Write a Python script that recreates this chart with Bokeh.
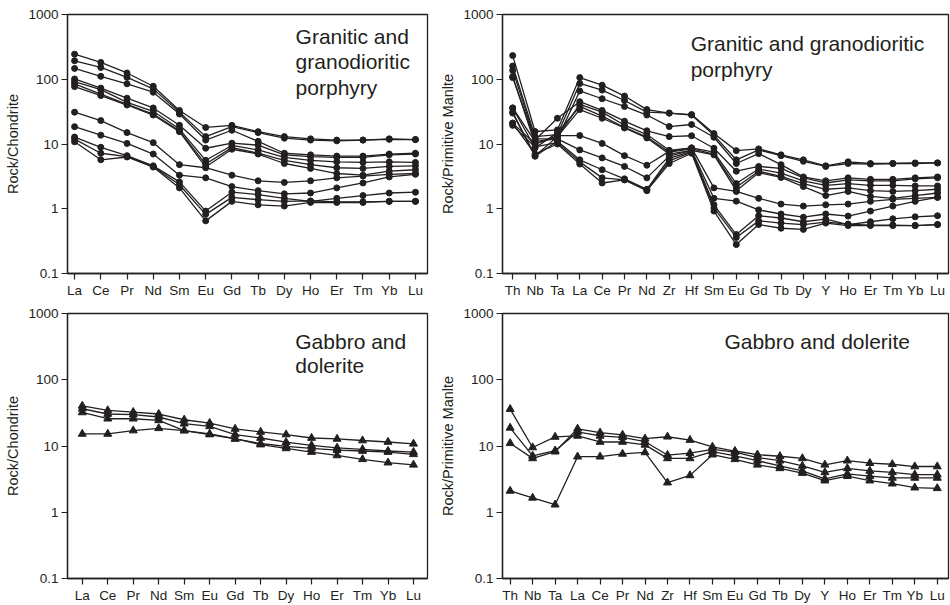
from bokeh.plotting import figure
from bokeh.models import FixedTicker, CustomJSTickFormatter, Label, Range1d
from bokeh.layouts import column, row
from bokeh.embed import file_html
from bokeh.resources import INLINE

# ---------------- categories ----------------
REE = ["La", "Ce", "Pr", "Nd", "Sm", "Eu", "Gd", "Tb", "Dy", "Ho", "Er", "Tm", "Yb", "Lu"]
SPIDER = ["Th", "Nb", "Ta", "La", "Ce", "Pr", "Nd", "Zr", "Hf", "Sm", "Eu", "Gd",
          "Tb", "Dy", "Y", "Ho", "Er", "Tm", "Yb", "Lu"]
Y_TICKS = [0.1, 1, 10, 100, 1000]

# ---------------- granitic / granodioritic porphyry : chondrite-normalised REE ----------------
por_a1_ree = [244, 182, 125, 78, 33, 18, 19.4, 15.5, 13, 12, 11.5, 11.5, 12, 11.7]
por_a2_ree = [193, 152, 107, 71, 31, 13, 18.6, 15, 12.3, 11.5, 11.2, 11.5, 11.8, 11.7]
por_a3_ree = [147, 111, 85, 63, 29, 11.5, 16.3, 11, 7.2, 6.8, 6.5, 6.5, 7.0, 7.2]
por_b1_ree = [101, 73, 51, 36, 19.5, 8.6, 10.3, 9.6, 6.8, 6.4, 6.2, 6.2, 6.8, 7.0]
por_b2_ree = [92, 69, 44, 32, 17, 5.6, 9.5, 8.1, 6.2, 5.6, 5.3, 5.2, 5.3, 5.2]
por_b3_ree = [85, 59, 41, 29, 16, 4.9, 8.8, 7.2, 5.6, 4.8, 4.3, 4.2, 4.5, 4.6]
por_b4_ree = [77, 56, 40, 28, 15.5, 4.4, 8.3, 7.0, 5.0, 4.2, 3.5, 3.3, 3.8, 4.0]
por_c1_ree = [31, 23, 15, 10.5, 4.8, 4.3, 3.3, 2.7, 2.55, 2.7, 3.0, 3.2, 3.4, 3.5]
por_c2_ree = [18.5, 13.7, 10.2, 7.0, 3.3, 3.0, 2.2, 1.9, 1.7, 1.75, 2.1, 2.5, 3.1, 3.4]
por_d1_ree = [12.8, 8.9, 6.6, 4.6, 2.6, 0.92, 1.8, 1.65, 1.45, 1.3, 1.45, 1.6, 1.75, 1.8]
por_d2_ree = [11.9, 7.2, 6.4, 4.5, 2.35, 0.82, 1.5, 1.38, 1.3, 1.32, 1.28, 1.28, 1.3, 1.3]
por_d3_ree = [10.8, 5.7, 6.3, 4.4, 2.1, 0.65, 1.3, 1.15, 1.1, 1.25, 1.25, 1.25, 1.3, 1.3]

# ---------------- porphyry : primitive-mantle-normalised trace elements ----------------
por_a1_pm = [232, 15.6, 16.5, 106, 81, 55, 34, 30, 28.5, 14.5, 7.9, 8.4, 6.8, 5.7, 4.6, 5.3, 5.0, 5.0, 5.1, 5.1]
por_a2_pm = [160, 13, 14, 86, 68, 47, 31, 30, 28, 13.6, 5.7, 8.1, 6.6, 5.4, 4.5, 5.0, 4.9, 5.0, 5.0, 5.1]
por_a3_pm = [137, 12, 12, 66, 50, 38, 28, 18.6, 20, 12.7, 5.0, 7.1, 4.8, 3.1, 2.7, 3.0, 2.85, 2.85, 3.0, 3.1]
por_b1_pm = [106, 11.5, 25, 45, 33, 22.5, 16, 13, 13.4, 8.6, 3.8, 4.5, 4.2, 3.0, 2.5, 2.8, 2.7, 2.7, 2.9, 3.0]
por_b2_pm = [110, 10, 13, 41, 31, 19.5, 14, 8, 8.7, 7.5, 2.45, 4.1, 3.55, 2.7, 2.3, 2.45, 2.3, 2.3, 2.25, 2.25]
por_b3_pm = [36, 8.7, 15, 38, 27, 18, 12.8, 7.5, 8.4, 7.0, 2.15, 3.8, 3.15, 2.45, 2.0, 2.1, 1.9, 1.85, 1.9, 2.0]
por_b4_pm = [31, 6.5, 13, 34, 25, 17.7, 12.4, 7.0, 8.0, 6.8, 1.9, 3.6, 3.05, 2.2, 1.6, 1.85, 1.55, 1.45, 1.6, 1.75]
por_c1_pm = [21, 10, 13.5, 13.5, 10.2, 6.6, 4.7, 7.7, 8.7, 2.1, 1.85, 1.45, 1.18, 1.1, 1.15, 1.18, 1.3, 1.4, 1.45, 1.5]
por_c2_pm = [36, 11, 12, 8.1, 6.1, 4.5, 3.0, 6.5, 8.0, 1.45, 1.31, 0.96, 0.83, 0.74, 0.83, 0.77, 0.92, 1.1, 1.3, 1.5]
por_d1_pm = [30, 6.5, 11, 5.7, 4.0, 2.9, 2.0, 6.0, 7.7, 1.15, 0.4, 0.78, 0.72, 0.63, 0.69, 0.57, 0.63, 0.7, 0.75, 0.78]
por_d2_pm = [19.4, 9, 10.5, 5.3, 3.0, 2.8, 1.95, 5.5, 7.5, 1.03, 0.36, 0.65, 0.6, 0.57, 0.62, 0.58, 0.56, 0.56, 0.55, 0.57]
por_d3_pm = [21, 7, 10, 4.9, 2.5, 2.8, 1.9, 5.0, 7.2, 0.92, 0.28, 0.57, 0.5, 0.48, 0.6, 0.55, 0.55, 0.55, 0.55, 0.57]

# ---------------- gabbro and dolerite : chondrite-normalised REE ----------------
gab_1_ree = [40.4, 34.4, 32.5, 30.4, 24.9, 22.2, 18.1, 16.3, 14.9, 13.2, 12.8, 12.1, 11.5, 10.8]
gab_2_ree = [36.5, 30.4, 29.7, 27.4, 21.7, 19.8, 14.9, 13.2, 11.4, 10.2, 9.4, 8.9, 8.4, 8.1]
gab_3_ree = [32.1, 25.8, 25.8, 24.4, 17.1, 14.9, 12.8, 10.9, 9.9, 9.2, 8.65, 8.4, 8.1, 7.5]
gab_4_ree = [15.2, 15.2, 17.1, 18.5, 17.1, 15.2, 12.9, 10.5, 9.2, 8.1, 7.2, 6.3, 5.6, 5.2]

# ---------------- gabbro and dolerite : primitive-mantle-normalised ----------------
gab_1_pm = [11.0, 6.5, 8.2, 18.2, 15.9, 14.7, 12.9, 13.8, 12.3, 9.7, 8.4, 7.4, 7.0, 6.5, 5.2, 6.0, 5.5, 5.3, 4.9, 4.9]
gab_2_pm = [18.8, 7.1, 8.5, 16.3, 14.2, 13.5, 11.6, 7.3, 7.8, 8.9, 8.1, 6.7, 6.0, 5.0, 4.0, 4.6, 4.2, 4.0, 3.7, 3.7]
gab_3_pm = [36, 9.5, 13.7, 14.2, 11.5, 11.5, 10.4, 6.5, 6.5, 8.2, 7.1, 6.0, 5.0, 4.2, 3.2, 3.8, 3.5, 3.3, 3.3, 3.3]
gab_4_pm = [2.1, 1.65, 1.3, 6.9, 6.9, 7.6, 8.0, 2.8, 3.6, 7.4, 6.3, 5.2, 4.6, 3.9, 3.0, 3.5, 3.0, 2.7, 2.35, 2.3]

POR_REE = [por_a1_ree, por_a2_ree, por_a3_ree, por_b1_ree, por_b2_ree, por_b3_ree,
           por_b4_ree, por_c1_ree, por_c2_ree, por_d1_ree, por_d2_ree, por_d3_ree]
POR_PM = [por_a1_pm, por_a2_pm, por_a3_pm, por_b1_pm, por_b2_pm, por_b3_pm,
          por_b4_pm, por_c1_pm, por_c2_pm, por_d1_pm, por_d2_pm, por_d3_pm]
GAB_REE = [gab_1_ree, gab_2_ree, gab_3_ree, gab_4_ree]
GAB_PM = [gab_1_pm, gab_2_pm, gab_3_pm, gab_4_pm]

INK = "#231f20"
FONT = "Liberation Sans"


def make_fig(w, h, cats, xr, borders, ylabel):
    bl, br, bt, bb = borders
    p = figure(width=w, height=h, x_range=Range1d(*xr), y_range=Range1d(0.1, 1000),
               y_axis_type="log", output_backend="svg", toolbar_location=None,
               min_border_left=bl, min_border_right=br, min_border_top=bt, min_border_bottom=bb)
    p.xgrid.grid_line_color = None
    p.ygrid.grid_line_color = None
    p.outline_line_color = INK
    p.outline_line_width = 1.3
    p.background_fill_color = "white"
    p.border_fill_color = "white"

    p.xaxis.ticker = FixedTicker(ticks=list(range(len(cats))))
    p.xaxis.major_label_overrides = {i: c for i, c in enumerate(cats)}
    p.yaxis.ticker = FixedTicker(ticks=Y_TICKS)
    p.yaxis.formatter = CustomJSTickFormatter(code="return String(tick);")
    p.yaxis.axis_label = ylabel
    for ax in (p.xaxis, p.yaxis):
        ax.axis_line_color = INK
        ax.axis_line_width = 1.3
        ax.major_tick_line_color = INK
        ax.major_tick_line_width = 1.2
        ax.major_tick_in = 0
        ax.major_tick_out = 6
        ax.minor_tick_line_color = None
        ax.major_label_text_font = FONT
        ax.major_label_text_font_size = "13.5px"
        ax.major_label_text_color = INK
        ax.major_label_standoff = 3
    p.yaxis.axis_label_text_font = FONT
    p.yaxis.axis_label_text_font_size = "14.5px"
    p.yaxis.axis_label_text_font_style = "normal"
    p.yaxis.axis_label_text_color = INK
    p.yaxis.axis_label_standoff = 4
    return p


def draw(p, series, marker, size):
    for s in series:
        xs = list(range(len(s)))
        p.line(xs, s, line_color=INK, line_width=1.3)
        p.scatter(xs, s, marker=marker, size=size, fill_color=INK, line_color=INK)


def title(p, x, ys, lines):
    for y, t in zip(ys, lines):
        p.add_layout(Label(x=x, y=y, text=t, text_font=FONT, text_font_size="21px",
                           text_color=INK, text_baseline="alphabetic", text_align="left"))


f1 = make_fig(437, 300, REE, (-0.27, 13.46), (67, 10, 14, 24), "Rock/Chondrite")
draw(f1, POR_REE, "circle", 6)
title(f1, 8.43, [450, 185, 75.5], ["Granitic and", "granodioritic", "porphyry"])

f2 = make_fig(513, 300, SPIDER, (-0.456, 19.49), (61, 2, 13, 25), "Rock/Primitive Manlte")
draw(f2, POR_PM, "circle", 6)
title(f2, 7.96, [352, 140], ["Granitic and granodioritic", "porphyry"])

f3 = make_fig(437, 305, REE, (-0.58, 13.55), (67, 10, 13, 25), "Rock/Chondrite")
draw(f3, GAB_REE, "triangle", 8)
title(f3, 8.36, [384, 162], ["Gabbro and", "dolerite"])

f4 = make_fig(513, 305, SPIDER, (-0.34, 19.5), (61, 2, 13, 25), "Rock/Primitive Manlte")
draw(f4, GAB_PM, "triangle", 8)
title(f4, 9.53, [384], ["Gabbro and dolerite"])

layout = column(row(f1, f2), row(f3, f4))
open("out.html", "w").write(file_html(layout, INLINE))
